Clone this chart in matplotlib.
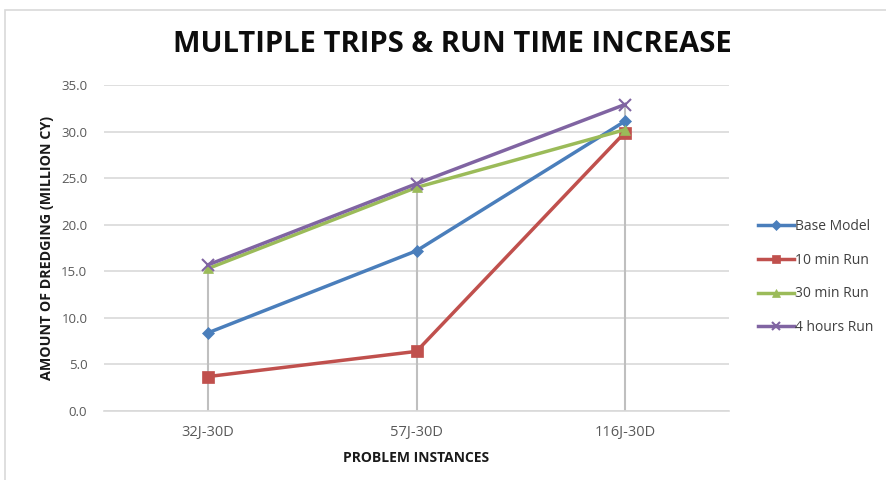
import matplotlib.pyplot as plt
from matplotlib.patches import Rectangle

categories = ["32J-30D", "57J-30D", "116J-30D"]
base_model = [8.4, 17.2, 31.1]
run_10min = [3.7, 6.4, 29.9]
run_30min = [15.3, 24.0, 30.2]
run_4hours = [15.7, 24.4, 32.9]

series = [
    ("Base Model", base_model, "#4a7ebb", "D", 6),
    ("10 min Run", run_10min, "#c0504d", "s", 8),
    ("30 min Run", run_30min, "#9bbb59", "^", 7),
    ("4 hours Run", run_4hours, "#8064a2", "x", 8),
]

plt.rcParams['font.family'] = ['Open Sans', 'DejaVu Sans']

fig = plt.figure(figsize=(8.86, 4.8), dpi=100)
# chart frame border
fig.patches.append(Rectangle((5 / 886, -0.01), 1.0, 1 - 10 / 480 + 0.01, transform=fig.transFigure,
                             fill=False, edgecolor="#d9d9d9", linewidth=1.2))

ax = fig.add_axes([104 / 886, 1 - 411 / 480, 625 / 886, 326 / 480])
x = [0.5, 1.5, 2.5]

# drop lines from highest point to the axis
tops = [max(v) for v in zip(base_model, run_10min, run_30min, run_4hours)]
ax.vlines(x, 0, tops, color="#bfbfbf", linewidth=1.5, zorder=1)

for name, vals, color, marker, ms in series:
    ax.plot(x, vals, color=color, linewidth=2.5, marker=marker, markersize=ms,
            markeredgewidth=1.5 if marker == "x" else 0.5, markeredgecolor=color,
            label=name, zorder=3)

ax.set_xlim(0, 3)
ax.set_ylim(0, 35)
ax.set_yticks(range(0, 36, 5))
ax.set_yticklabels([f"{v:.1f}" for v in range(0, 36, 5)])
ax.set_xticks(x)
ax.set_xticklabels(categories)
ax.grid(axis="y", color="#d9d9d9", linewidth=1.2)
ax.set_axisbelow(True)
for s in ["top", "right", "left"]:
    ax.spines[s].set_visible(False)
ax.spines["bottom"].set_color("#d9d9d9")
ax.spines["bottom"].set_linewidth(1.2)
ax.tick_params(axis="both", length=0, colors="#595959", labelsize=9.5)
ax.tick_params(axis="x", pad=10)
for lbl in ax.get_xticklabels():
    lbl.set_fontsize(10.5)
ax.tick_params(axis="y", pad=12)

ax.set_ylabel("AMOUNT OF DREDGING (MILLION CY)", fontsize=10.3, fontweight="bold", color="#1a1a1a", labelpad=5)
ax.set_xlabel("PROBLEM INSTANCES", fontsize=10, fontweight="bold", color="#1a1a1a", labelpad=8)
fig.text(452 / 886, 1 - 45 / 480, "MULTIPLE TRIPS & RUN TIME INCREASE", ha="center", va="center",
         fontsize=21, fontweight="bold", color="#0d0d0d")

ax.legend(loc="center left", bbox_to_anchor=(745 / 886, 1 - 277 / 480), bbox_transform=fig.transFigure,
          frameon=False, fontsize=10, handlelength=2.6, handletextpad=0.1, labelspacing=1.35,
          labelcolor="#404040", markerscale=0.8)

fig.savefig("out.png", dpi=100)
